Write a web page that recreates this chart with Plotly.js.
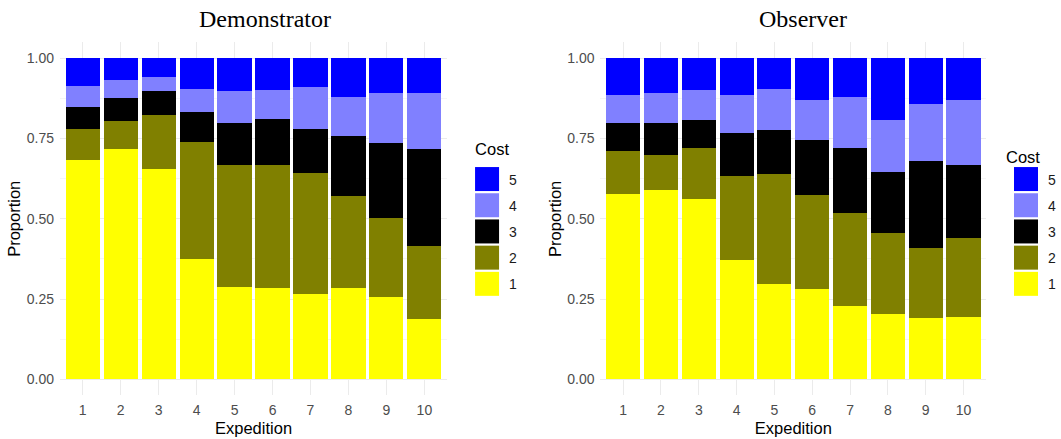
<!DOCTYPE html>
<html>
<head>
<meta charset="utf-8">
<script src="https://cdn.plot.ly/plotly-3.0.1.min.js"></script>
<style>
  html, body { margin: 0; padding: 0; background: #ffffff; }
  #chart { width: 1061px; height: 439px; }
</style>
</head>
<body>
<div id="chart"></div>
<script>
// ---------- data ----------
const expeditions = [1, 2, 3, 4, 5, 6, 7, 8, 9, 10];
const tickLabels = ["1", "2", "3", "4", "5", "6", "7", "8", "9", "10"];
const costs = ["1", "2", "3", "4", "5"];
const costColors = ["#FFFF00", "#808000", "#000000", "#8080FF", "#0000FF"];
const panelTitles = ["Demonstrator", "Observer"];

// Demonstrator: proportion of each cost level per expedition
const demoCost1 = [0.683, 0.719, 0.656, 0.375, 0.289, 0.283, 0.265, 0.283, 0.255, 0.189];
const demoCost2 = [0.096, 0.087, 0.167, 0.365, 0.379, 0.384, 0.378, 0.288, 0.248, 0.227];
const demoCost3 = [0.070, 0.069, 0.074, 0.092, 0.132, 0.143, 0.137, 0.187, 0.233, 0.302];
const demoCost4 = [0.064, 0.058, 0.044, 0.074, 0.098, 0.091, 0.132, 0.123, 0.155, 0.174];
const demoCost5 = [0.087, 0.067, 0.059, 0.094, 0.102, 0.099, 0.088, 0.119, 0.109, 0.108];

// Observer
const obsCost1 = [0.576, 0.591, 0.563, 0.371, 0.298, 0.282, 0.228, 0.202, 0.190, 0.195];
const obsCost2 = [0.136, 0.109, 0.159, 0.262, 0.342, 0.293, 0.290, 0.253, 0.219, 0.245];
const obsCost3 = [0.087, 0.099, 0.086, 0.134, 0.138, 0.172, 0.204, 0.191, 0.270, 0.227];
const obsCost4 = [0.087, 0.093, 0.093, 0.120, 0.125, 0.124, 0.157, 0.161, 0.178, 0.202];
const obsCost5 = [0.114, 0.108, 0.099, 0.113, 0.097, 0.129, 0.121, 0.193, 0.143, 0.131];

const demoSeries = [demoCost1, demoCost2, demoCost3, demoCost4, demoCost5];
const obsSeries = [obsCost1, obsCost2, obsCost3, obsCost4, obsCost5];

// ---------- traces ----------
const traces = [];
function addPanel(series, xa, ya, legendId, prefix) {
  series.forEach((vals, i) => {
    traces.push({
      type: "bar",
      x: expeditions,
      y: vals,
      name: costs[i],
      xaxis: xa,
      yaxis: ya,
      legend: legendId,
      legendgroup: prefix + costs[i],
      legendrank: 1000 - i,
      marker: { color: costColors[i], line: { width: 0 } },
      hoverinfo: "x+y+name"
    });
  });
}
addPanel(demoSeries, "x", "y", "legend", "d");
addPanel(obsSeries, "x2", "y2", "legend2", "o");

// ---------- layout ----------
const W = 1061, H = 439;
const px = v => v / W;
const py = v => (H - v) / H;

const tickFont = { family: "Liberation Sans, Arial, sans-serif", size: 14, color: "#4d4d4d" };
const axTitleFont = { family: "Liberation Sans, Arial, sans-serif", size: 16.5, color: "#000000" };

function xAxis(domain, anchor) {
  return {
    domain: domain,
    anchor: anchor,
    range: [0.4, 10.6],
    tickmode: "array",
    tickvals: expeditions,
    ticktext: tickLabels,
    showgrid: true,
    gridcolor: "#ebebeb",
    gridwidth: 1,
    zeroline: false,
    showline: false,
    ticks: "",
    ticklabelstandoff: 5,
    tickfont: tickFont,
    title: { text: "Expedition", font: axTitleFont, standoff: 5 },
    automargin: false,
    fixedrange: true
  };
}
function yAxis(domain, anchor) {
  return {
    domain: domain,
    anchor: anchor,
    range: [-0.05, 1.05],
    tickmode: "array",
    tickvals: [0, 0.25, 0.5, 0.75, 1],
    ticktext: ["0.00", "0.25", "0.50", "0.75", "1.00"],
    showgrid: true,
    gridcolor: "#ebebeb",
    gridwidth: 1,
    minor: { tickmode: "array", tickvals: [0.125, 0.375, 0.625, 0.875], showgrid: true, gridcolor: "#f5f5f5", gridwidth: 0.6, ticks: "" },
    zeroline: false,
    showline: false,
    ticks: "",
    ticklabelstandoff: 5,
    tickfont: tickFont,
    title: { text: "Proportion", font: axTitleFont, standoff: 1 },
    automargin: false,
    fixedrange: true
  };
}

const yDomain = [py(395.3), py(42.3)];

function legendCfg(xLeft) {
  return {
    x: px(xLeft),
    xanchor: "left",
    y: py(142),
    yanchor: "top",
    traceorder: "grouped",
    tracegroupgap: 5,
    itemwidth: 34,
    bgcolor: "rgba(0,0,0,0)",
    borderwidth: 0,
    font: { family: "Liberation Sans, Arial, sans-serif", size: 14, color: "#1a1a1a" },
    title: { text: "Cost", font: { family: "Liberation Sans, Arial, sans-serif", size: 16.5, color: "#000000" } },
    itemclick: false,
    itemdoubleclick: false
  };
}

const titleFont = { family: "Liberation Serif, Times New Roman, serif", size: 24, color: "#000000" };

const layout = {
  width: W,
  height: H,
  margin: { l: 0, r: 0, t: 0, b: 0, pad: 0 },
  paper_bgcolor: "#ffffff",
  plot_bgcolor: "#ffffff",
  barmode: "stack",
  bargap: 0.1,
  showlegend: true,
  xaxis: xAxis([px(60.3), px(449.7)], "y"),
  yaxis: yAxis(yDomain, "x"),
  xaxis2: xAxis([px(603.9), px(991.8)], "y2"),
  yaxis2: yAxis(yDomain, "x2"),
  legend: legendCfg(467.7),
  legend2: legendCfg(1010),
  annotations: [
    { text: panelTitles[0], xref: "paper", yref: "paper", x: px(266.7), y: py(19), xanchor: "center", yanchor: "middle", showarrow: false, font: titleFont },
    { text: panelTitles[1], xref: "paper", yref: "paper", x: px(808), y: py(19), xanchor: "center", yanchor: "middle", showarrow: false, font: titleFont }
  ]
};

Plotly.newPlot("chart", traces, layout, { displayModeBar: false }).then(() => {
  // enlarge legend swatches to ggplot-like keys
  document.querySelectorAll(".legendpoints path").forEach(p => {
    p.setAttribute("d", "M12,12H-12V-12H12Z");
  });
  // align legend titles with the keys, as in the original
  document.querySelectorAll(".legendtitletext").forEach(t => {
    t.style.transform = "translate(8px,-8px)";
  });
});
</script>
</body>
</html>
